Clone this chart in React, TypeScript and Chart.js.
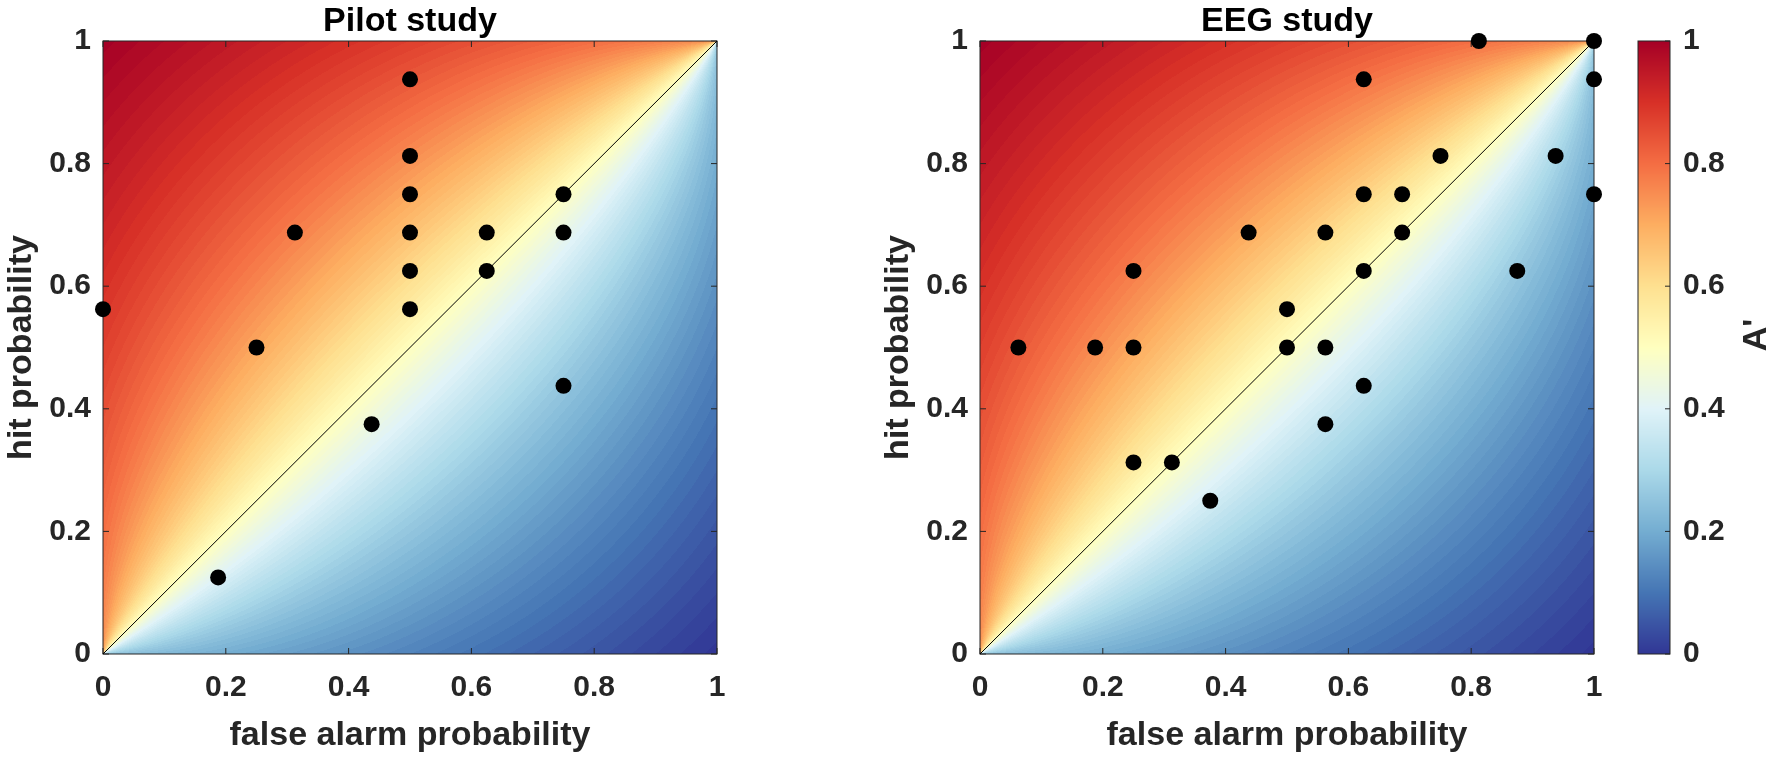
import { useEffect, useRef } from "react"
import { Chart, registerables } from "chart.js"

Chart.register(...registerables)

// axis / colorbar ticks
const axisTicks = [0, 0.2, 0.4, 0.6, 0.8, 1]

// pilot study: false alarm vs hit probability per participant
const pilotFalseAlarm = [0, 0.1875, 0.25, 0.3125, 0.4375, 0.5, 0.5, 0.5, 0.5, 0.5, 0.5, 0.625, 0.625, 0.75, 0.75, 0.75]
const pilotHit = [0.5625, 0.125, 0.5, 0.6875, 0.375, 0.9375, 0.8125, 0.75, 0.6875, 0.625, 0.5625, 0.6875, 0.625, 0.75, 0.6875, 0.4375]

// EEG study
const eegFalseAlarm = [
  0.0625, 0.1875, 0.25, 0.25, 0.25, 0.3125, 0.375, 0.4375, 0.5, 0.5, 0.5625, 0.5625, 0.5625,
  0.625, 0.625, 0.625, 0.625, 0.6875, 0.6875, 0.75, 0.8125, 0.875, 0.9375, 1, 1, 1,
]
const eegHit = [
  0.5, 0.5, 0.625, 0.5, 0.3125, 0.3125, 0.25, 0.6875, 0.5625, 0.5, 0.6875, 0.5, 0.375,
  0.9375, 0.75, 0.625, 0.4375, 0.75, 0.6875, 0.8125, 1, 0.625, 0.8125, 1, 0.9375, 0.75,
]

// chance line
const diagonal = [0, 1]

// RdYlBu, flipped (0 = blue, 1 = red)
const colorbarColors = [
  "#313695", "#4575b4", "#74add1", "#abd9e9", "#e0f3f8", "#ffffbf",
  "#fee090", "#fdae61", "#f46d43", "#d73027", "#a50026",
]

const FONT = '"Liberation Sans", Arial, Helvetica, sans-serif'
const AXIS_COLOR = "#262626"

const stopsRgb = colorbarColors.map((c) => [
  parseInt(c.slice(1, 3), 16),
  parseInt(c.slice(3, 5), 16),
  parseInt(c.slice(5, 7), 16),
])

function colorAt(v: number) {
  const n = stopsRgb.length
  const t = Math.min(Math.max(v, 0), 1) * (n - 1)
  const i = Math.min(Math.floor(t), n - 2)
  const f = t - i
  const a = stopsRgb[i]
  const b = stopsRgb[i + 1]
  return [a[0] + (b[0] - a[0]) * f, a[1] + (b[1] - a[1]) * f, a[2] + (b[2] - a[2]) * f]
}

// nonparametric sensitivity A'
function aPrime(f: number, h: number) {
  if (h === f) return 0.5
  if (h > f) return 0.5 + ((h - f) * (1 + h - f)) / (4 * h * (1 - f))
  return 0.5 - ((f - h) * (1 + f - h)) / (4 * f * (1 - h))
}

function drawFrame(ctx: CanvasRenderingContext2D, area: any, xs: any, ys: any, tickLen: number, sides: string[]) {
  ctx.save()
  ctx.strokeStyle = AXIS_COLOR
  ctx.lineWidth = 1
  ctx.beginPath()
  for (const v of axisTicks) {
    if (xs && sides.includes("bottom")) {
      const px = xs.getPixelForValue(v)
      ctx.moveTo(px, area.bottom)
      ctx.lineTo(px, area.bottom - tickLen)
    }
    if (xs && sides.includes("top")) {
      const px = xs.getPixelForValue(v)
      ctx.moveTo(px, area.top)
      ctx.lineTo(px, area.top + tickLen)
    }
    if (sides.includes("left")) {
      const py = ys.getPixelForValue(v)
      ctx.moveTo(area.left, py)
      ctx.lineTo(area.left + tickLen, py)
    }
    if (sides.includes("right")) {
      const py = ys.getPixelForValue(v)
      ctx.moveTo(area.right, py)
      ctx.lineTo(area.right - tickLen, py)
    }
  }
  ctx.stroke()
  ctx.strokeRect(area.left, area.top, area.right - area.left, area.bottom - area.top)
  ctx.restore()
}

const aPrimeBackground = {
  id: "aPrimeBackground",
  beforeDatasetsDraw(chart: any) {
    const { ctx, chartArea, scales } = chart
    const dpr = chart.currentDevicePixelRatio || 1
    const w = Math.round((chartArea.right - chartArea.left) * dpr)
    const h = Math.round((chartArea.bottom - chartArea.top) * dpr)
    const off = document.createElement("canvas")
    off.width = w
    off.height = h
    const octx = off.getContext("2d")!
    const img = octx.createImageData(w, h)
    for (let j = 0; j < h; j++) {
      const hit = scales.y.getValueForPixel(chartArea.top + (j + 0.5) / dpr)
      for (let i = 0; i < w; i++) {
        const fa = scales.x.getValueForPixel(chartArea.left + (i + 0.5) / dpr)
        const level = Math.round(aPrime(fa, hit) * 100) / 100
        const [r, g, b] = colorAt(level)
        const k = (j * w + i) * 4
        img.data[k] = r
        img.data[k + 1] = g
        img.data[k + 2] = b
        img.data[k + 3] = 255
      }
    }
    octx.putImageData(img, 0, 0)
    ctx.drawImage(off, chartArea.left, chartArea.top, chartArea.right - chartArea.left, chartArea.bottom - chartArea.top)
    drawFrame(ctx, chartArea, scales.x, scales.y, 6, ["bottom", "top", "left", "right"])
  },
}

const figureText = {
  id: "figureText",
  afterDraw(chart: any, _args: any, opts: any) {
    const { ctx, chartArea } = chart
    const cx = (chartArea.left + chartArea.right) / 2
    const cy = (chartArea.top + chartArea.bottom) / 2
    ctx.save()
    ctx.textAlign = "center"
    ctx.textBaseline = "alphabetic"
    ctx.font = `bold 34px ${FONT}`
    if (opts.title) {
      ctx.fillStyle = "#000000"
      ctx.fillText(opts.title, cx, chartArea.top - 10)
    }
    ctx.fillStyle = AXIS_COLOR
    if (opts.xTitle) ctx.fillText(opts.xTitle, cx, chartArea.bottom + 91)
    if (opts.yTitle) {
      ctx.translate(chartArea.left - 72, cy)
      ctx.rotate(-Math.PI / 2)
      ctx.fillText(opts.yTitle, 0, 0)
    }
    ctx.restore()
  },
}

const colorbarPlugin = {
  id: "colorbarPlugin",
  beforeDatasetsDraw(chart: any) {
    const { ctx, chartArea, scales } = chart
    ctx.save()
    for (let py = Math.floor(chartArea.top); py < chartArea.bottom; py++) {
      const [r, g, b] = colorAt(scales.y.getValueForPixel(py + 0.5))
      ctx.fillStyle = `rgb(${r},${g},${b})`
      ctx.fillRect(chartArea.left, py, chartArea.right - chartArea.left, 1)
    }
    ctx.restore()
    drawFrame(ctx, chartArea, null, scales.y, 5, ["right"])
  },
  afterDraw(chart: any) {
    const { ctx } = chart
    ctx.save()
    ctx.font = `bold 34px ${FONT}`
    ctx.fillStyle = AXIS_COLOR
    ctx.textAlign = "center"
    ctx.textBaseline = "alphabetic"
    ctx.translate(146, 335)
    ctx.rotate(-Math.PI / 2)
    ctx.fillText("A'", 0, 0)
    ctx.restore()
  },
}

const tickFont = { family: FONT, size: 30, weight: "bold" as const }

function axisScale(extra: any) {
  return {
    type: "linear" as const,
    min: 0,
    max: 1,
    afterBuildTicks: (s: any) => {
      s.ticks = axisTicks.map((v) => ({ value: v }))
    },
    ticks: {
      font: tickFont,
      color: AXIS_COLOR,
      autoSkip: false,
      maxRotation: 0,
      callback: (v: any) => String(v),
      ...extra.ticks,
    },
    grid: { display: false, drawTicks: false },
    border: { display: false },
    ...extra.rest,
  }
}

function scatterConfig(fa: number[], hit: number[], rightPad: number, text: any): any {
  return {
    type: "scatter",
    data: {
      datasets: [
        {
          data: fa.map((x, i) => ({ x, y: hit[i] })),
          backgroundColor: "#000000",
          borderWidth: 0,
          pointRadius: 8,
          pointHoverRadius: 8,
          clip: false,
          order: 0,
        },
        {
          data: diagonal.map((v) => ({ x: v, y: v })),
          showLine: true,
          borderColor: "#000000",
          borderWidth: 1,
          pointRadius: 0,
          order: 1,
        },
      ],
    },
    options: {
      animation: false,
      responsive: false,
      events: [],
      layout: { padding: { left: 0, top: 41, right: rightPad, bottom: 0 } },
      plugins: {
        legend: { display: false },
        tooltip: { enabled: false },
        figureText: text,
      },
      scales: {
        x: axisScale({
          ticks: { padding: 16 },
          rest: { afterFit: (s: any) => { s.height = 104 } },
        }),
        y: axisScale({
          ticks: { padding: 12 },
          rest: { afterFit: (s: any) => { s.width = 103 } },
        }),
      },
    },
    plugins: [aPrimeBackground, figureText],
  }
}

export default function App() {
  const pilotRef = useRef<HTMLCanvasElement>(null)
  const eegRef = useRef<HTMLCanvasElement>(null)
  const barRef = useRef<HTMLCanvasElement>(null)

  useEffect(() => {
    if (!pilotRef.current || !eegRef.current || !barRef.current) return

    const pilot = new Chart(
      pilotRef.current,
      scatterConfig(pilotFalseAlarm, pilotHit, 43, {
        title: "Pilot study",
        xTitle: "false alarm probability",
        yTitle: "hit probability",
      }),
    )
    const eeg = new Chart(
      eegRef.current,
      scatterConfig(eegFalseAlarm, eegHit, 26, {
        title: "EEG study",
        xTitle: "false alarm probability",
        yTitle: "hit probability",
      }),
    )
    const bar = new Chart(barRef.current, {
      type: "scatter",
      data: { datasets: [] },
      options: {
        animation: false,
        responsive: false,
        events: [],
        layout: { padding: { left: 18, top: 41, right: 0, bottom: 104 } },
        plugins: { legend: { display: false }, tooltip: { enabled: false } },
        scales: {
          x: { type: "linear", min: 0, max: 1, display: false },
          y: axisScale({
            ticks: { padding: 13 },
            rest: { position: "right", afterFit: (s: any) => { s.width = 102 } },
          }),
        },
      },
      plugins: [colorbarPlugin],
    } as any)

    return () => {
      pilot.destroy()
      eeg.destroy()
      bar.destroy()
    }
  }, [])

  return (
    <div style={{ position: "absolute", left: 0, top: 0, width: 1772, height: 758, background: "#ffffff" }}>
      <canvas ref={pilotRef} width={760} height={758} style={{ position: "absolute", left: 0, top: 0 }} />
      <canvas ref={eegRef} width={743} height={758} style={{ position: "absolute", left: 877, top: 0 }} />
      <canvas ref={barRef} width={152} height={758} style={{ position: "absolute", left: 1620, top: 0 }} />
    </div>
  )
}
